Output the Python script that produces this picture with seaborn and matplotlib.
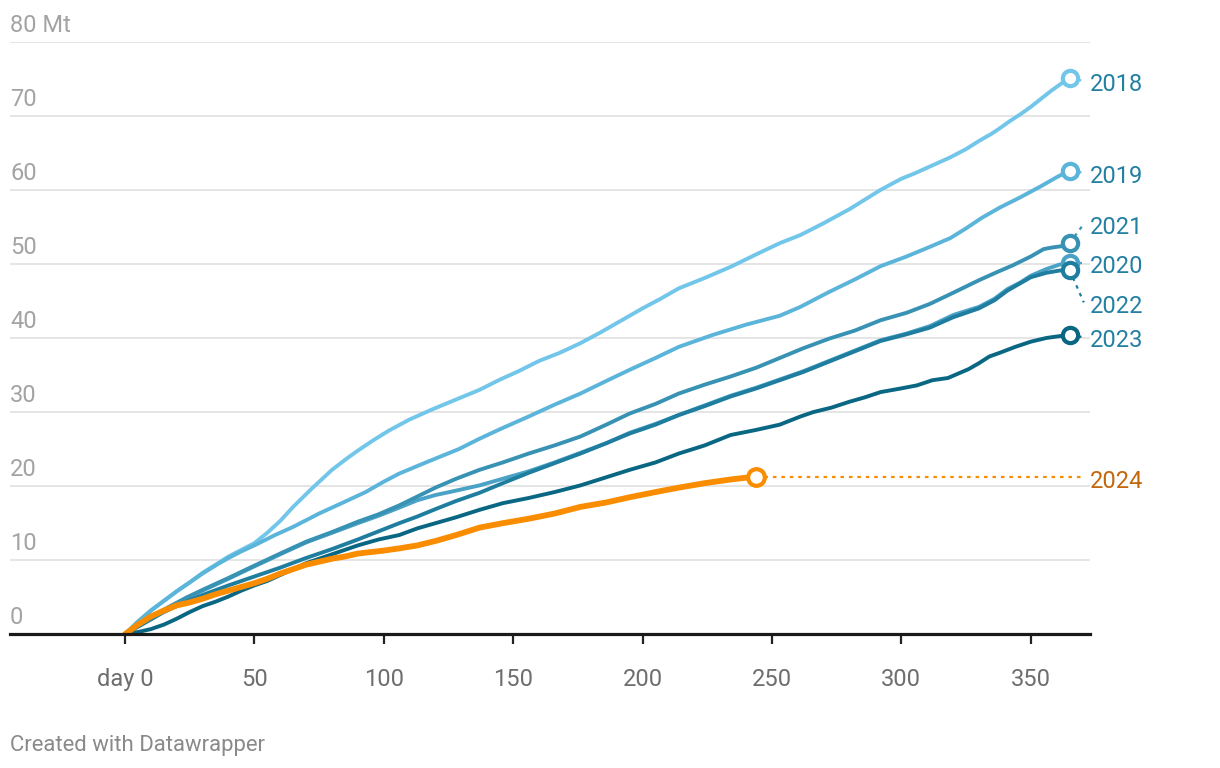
import numpy as np
import pandas as pd
import matplotlib
matplotlib.use("Agg")
import matplotlib.pyplot as plt
import seaborn as sns
from matplotlib import transforms

# ---------------- data (cumulative Mt by day of year) ----------------
days_2018 = [0,5,10,15,20,25,30,36,40,45,50,55,60,65,72,80,86,90,96,102,110,119,128,137,145,152,160,168,176,184,192,200,207,214,224,234,244,253,261,270,280,292,300,305,312,319,325,330,335,338,342,346,350,354,358,362,365]
vals_2018 = [0,1.7,3.2,4.5,5.8,7.0,8.3,9.6,10.5,11.4,12.3,13.7,15.3,17.2,19.6,22.2,23.8,24.8,26.2,27.5,29.0,30.4,31.7,33.0,34.4,35.5,36.9,38.0,39.3,40.8,42.4,44.0,45.3,46.7,48.1,49.6,51.3,52.8,53.9,55.5,57.4,60.0,61.5,62.2,63.3,64.4,65.5,66.6,67.6,68.3,69.3,70.2,71.2,72.3,73.4,74.4,75.1]

days_2019 = [0,5,10,15,20,25,30,36,40,45,50,58,65,75,85,93,100,106,117,129,137,145,156,166,176,186,195,205,214,227,240,253,261,272,282,292,302,311,319,325,331,338,346,354,360,365]
vals_2019 = [0,1.7,3.2,4.5,5.8,7.0,8.2,9.5,10.3,11.2,12.0,13.4,14.5,16.3,17.9,19.2,20.6,21.7,23.3,25.0,26.4,27.7,29.4,31.0,32.5,34.2,35.7,37.3,38.8,40.4,41.8,43.0,44.2,46.2,47.9,49.7,51.0,52.3,53.5,54.8,56.2,57.6,59.0,60.5,61.7,62.6]

days_2020 = [0,5,10,17,24,30,40,49,60,70,80,90,98,106,113,120,128,137,146,156,166,176,186,195,205,214,224,234,244,253,262,272,282,292,302,311,320,330,336,341,346,350,356,361,365]
vals_2020 = [0,1.2,2.2,3.6,4.9,5.9,7.5,9.0,10.8,12.4,13.7,15.0,16.0,17.1,18.1,18.8,19.4,20.1,21.0,22.0,23.2,24.5,25.8,27.2,28.4,29.6,30.9,32.2,33.3,34.4,35.5,36.9,38.3,39.7,40.6,41.6,43.1,44.2,45.3,46.6,47.5,48.4,49.3,49.9,50.1]

days_2021 = [0,5,10,17,24,30,40,49,60,70,80,90,98,106,113,120,128,137,146,156,166,176,186,195,205,214,224,234,244,253,262,272,282,292,302,311,320,330,337,343,350,355,358,362,365]
vals_2021 = [0,1.2,2.3,3.7,5.0,6.0,7.6,9.1,10.9,12.5,13.8,15.2,16.2,17.4,18.6,19.8,21.0,22.2,23.2,24.4,25.5,26.7,28.3,29.8,31.1,32.5,33.7,34.8,36.0,37.3,38.6,39.9,41.0,42.4,43.4,44.6,46.1,47.8,48.9,49.8,51.0,52.0,52.2,52.4,52.8]

days_2022 = [0,5,10,15,20,25,30,40,50,60,70,80,90,98,106,113,120,128,137,146,156,166,176,186,195,205,214,224,234,244,253,262,272,282,292,302,311,320,330,336,341,346,350,356,361,365]
vals_2022 = [0,1.0,2.0,3.0,3.8,4.6,5.3,6.6,7.8,9.0,10.3,11.5,12.8,13.9,15.0,15.9,16.9,18.0,19.1,20.4,21.8,23.1,24.4,25.8,27.1,28.3,29.6,30.8,32.1,33.2,34.3,35.4,36.8,38.2,39.6,40.5,41.4,42.8,44.0,45.1,46.4,47.4,48.2,48.8,49.1,49.2]

days_2023 = [0,5,10,15,20,25,30,35,40,45,50,55,60,65,70,80,90,98,106,113,120,128,137,146,156,166,176,186,195,205,214,224,234,244,253,261,266,273,280,286,292,300,306,312,318,322,326,330,334,338,344,350,356,360,365]
vals_2023 = [0,0.3,0.7,1.3,2.1,3.0,3.8,4.4,5.1,5.9,6.6,7.2,8.0,8.8,9.6,10.8,12.0,12.8,13.4,14.3,15.0,15.8,16.8,17.7,18.4,19.2,20.1,21.2,22.2,23.2,24.4,25.5,26.9,27.6,28.3,29.4,30.0,30.6,31.4,32.0,32.7,33.2,33.6,34.3,34.6,35.2,35.8,36.6,37.5,38.0,38.8,39.5,40.0,40.2,40.4]

days_2024 = [0,5,10,15,20,25,30,35,40,45,50,55,60,65,70,75,80,85,90,95,100,106,113,120,128,137,146,156,166,176,186,195,205,214,224,234,244]
vals_2024 = [0,1.3,2.4,3.2,3.9,4.3,4.8,5.4,5.9,6.4,6.9,7.5,8.2,8.8,9.4,9.8,10.2,10.5,10.9,11.1,11.3,11.6,12.0,12.6,13.4,14.4,15.0,15.6,16.3,17.2,17.8,18.5,19.2,19.8,20.4,20.9,21.3]

years = ["2018", "2019", "2020", "2021", "2022", "2023", "2024"]
series = {
    "2018": (days_2018, vals_2018),
    "2019": (days_2019, vals_2019),
    "2020": (days_2020, vals_2020),
    "2021": (days_2021, vals_2021),
    "2022": (days_2022, vals_2022),
    "2023": (days_2023, vals_2023),
    "2024": (days_2024, vals_2024),
}
x_ticks = [0, 50, 100, 150, 200, 250, 300, 350]
x_tick_labels = ["day 0", "50", "100", "150", "200", "250", "300", "350"]
y_ticks = [0, 10, 20, 30, 40, 50, 60, 70, 80]
y_tick_labels = ["0", "10", "20", "30", "40", "50", "60", "70", "80 Mt"]

# ---------------- style ----------------
colors = {
    "2018": "#72C6E9",
    "2019": "#5BB4DA",
    "2020": "#4AA2C6",
    "2021": "#3792B4",
    "2022": "#1F7E9F",
    "2023": "#0A6784",
    "2024": "#FA8C00",
}
label_colors = {y: "#2380A2" for y in years}
label_colors["2024"] = "#C4670A"
label_offsets = {"2018": -0.9, "2019": -0.8, "2020": -0.5, "2021": 2.1, "2022": -4.9, "2023": -0.8, "2024": -0.7}

sns.set_theme(style="white")
plt.rcParams["font.family"] = ["Roboto", "DejaVu Sans"]

W, H = 1220, 768
fig = plt.figure(figsize=(W / 100, H / 100), dpi=100)
ax_left, ax_right = 10 / W, 1090 / W
ax_bottom, ax_top = (H - 634.3) / H, (H - 41.7) / H
ax = fig.add_axes([ax_left, ax_bottom, ax_right - ax_left, ax_top - ax_bottom])

df = pd.concat(
    [pd.DataFrame({"day": series[y][0], "value": series[y][1], "year": y}) for y in years],
    ignore_index=True,
)

for i, y in enumerate(years):
    sub = df[df["year"] == y]
    sns.lineplot(data=sub, x="day", y="value", color=colors[y], ax=ax,
                 linewidth=4.2 if y == "2024" else 2.8, estimator=None, sort=False,
                 legend=False, zorder=3 + i, solid_capstyle="round", solid_joinstyle="round")

XMAX = 372.9
label_x = 372.9
for i, y in enumerate(years):
    d, v = series[y]
    lx, lv = d[-1], v[-1]
    ly = lv + label_offsets[y]
    lead_end = 370.5 if y != "2024" else 370.0
    lead_y = (ly + 0.5) if y != "2024" else lv
    ax.plot([lx, lead_end], [lv, lead_y], color=colors[y], lw=1.6,
            linestyle=(0, (1.6, 2.2)), zorder=2 + i, clip_on=False)
    ax.plot([lx], [lv], marker="o", ms=12 if y == "2024" else 11, mfc="white",
            mec=colors[y], mew=3.0, zorder=20 + i, clip_on=False, linestyle="none")
    ax.text(label_x, ly, y, color=label_colors[y], fontsize=17, ha="left", va="center",
            clip_on=False)

ax.set_xlim(-44.4, XMAX)
ax.set_ylim(0, 80)

# grid
for t in y_ticks[1:]:
    ax.axhline(t, color="#e3e3e3", lw=1.3, zorder=1)

for s in ["left", "right", "top"]:
    ax.spines[s].set_visible(False)
ax.spines["bottom"].set_color("#1a1a1a")
ax.spines["bottom"].set_linewidth(2.3)
ax.spines["bottom"].set_zorder(40)

ax.set_xticks(x_ticks)
ax.set_xticklabels(x_tick_labels)
ax.tick_params(axis="x", direction="out", length=7, width=1.6, color="#222222",
               labelsize=17, labelcolor="#6e6e6e", pad=17, bottom=True)
ax.set_yticks([])
ax.set_xlabel("")
ax.set_ylabel("")

# y labels above gridlines, left aligned
ytrans = transforms.blended_transform_factory(ax.transAxes, ax.transData)
for t, lab in zip(y_ticks, y_tick_labels):
    ax.annotate(lab, xy=(0, t), xycoords=ytrans, xytext=(0, 7.2), textcoords="offset points",
                ha="left", va="baseline", fontsize=17, color="#a3a3a3")

fig.text(10 / W, 1 - 745 / H, "Created with Datawrapper", fontsize=15.9, color="#8a8a8a",
         ha="left", va="center")

fig.savefig("out.png", dpi=100, facecolor="white")
